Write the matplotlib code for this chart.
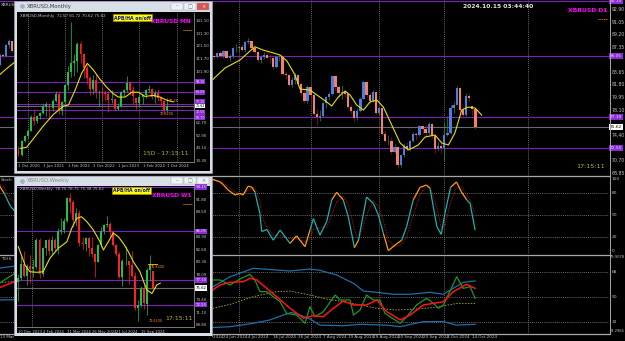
import numpy as np
import matplotlib
matplotlib.use("Agg")
import matplotlib.pyplot as plt
from matplotlib.patches import Rectangle
from matplotlib.lines import Line2D
from matplotlib.collections import LineCollection

W, H = 625, 341

# ---------------- D1 (main chart) data, bar index 0 = 24 Jun 2024 ----------------
d1_bar = [-73, -72, -71, -70, -69, -68, -67] + list(range(-5, 82))
d1_open = [83.7, 84.8, 86.2, 86.1, 87.7, 88.2, 86.8,
           83.4, 85.0, 86.1, 85.9, 86.5, 86.0, 86.8, 85.8, 86.1, 87.2, 87.2, 87.4, 87.0, 88.1, 88.2, 87.3,
           86.6, 85.5, 85.9, 86.2, 85.8, 85.7, 84.5, 85.9, 85.9, 83.4, 83.2, 81.8, 82.5, 83.2, 81.9, 80.6,
           79.4, 81.5, 80.3, 77.6, 77.1, 77.3, 79.1, 80.0, 80.5, 83.1, 81.5, 80.6, 80.8, 80.5, 78.5, 78.0,
           76.9, 78.0, 79.8, 82.2, 80.4, 79.5, 80.7, 77.75, 78.35, 74.6, 73.55, 73.55, 71.9, 72.7, 70.05,
           71.45, 72.8, 72.45, 73.6, 74.55, 74.5, 75.75, 75.35, 74.75, 76.05, 74.35, 72.45, 72.85, 72.57,
           74.45, 74.75, 78.45, 78.9, 81.3, 78.05, 77.45, 80.25, 78.75, 78.3]
d1_high = [85.0, 86.4, 86.5, 87.8, 88.5, 88.3, 87.4,
           85.2, 86.3, 86.2, 86.7, 86.8, 87.0, 86.9, 86.4, 87.4, 87.8, 87.6, 87.8, 88.3, 88.7, 88.4, 87.6,
           86.8, 86.2, 86.6, 86.7, 86.3, 85.9, 86.1, 86.4, 86.0, 83.8, 83.4, 83.0, 83.6, 83.4, 82.2, 81.0,
           81.8, 82.1, 80.5, 78.3, 78.1, 79.3, 80.2, 80.8, 83.2, 83.3, 81.8, 81.8, 81.1, 80.6, 78.8, 78.2,
           78.4, 80.1, 82.4, 82.3, 80.8, 81.0, 80.8, 78.55, 78.45, 75.05, 74.45, 74.15, 73.05, 72.85, 71.65,
           73.25, 73.45, 73.75, 74.85, 74.95, 75.95, 75.85, 75.85, 76.35, 76.15, 74.55, 73.35, 73.45, 76.25,
           77.25, 78.85, 79.35, 81.72, 81.4, 78.55, 80.65, 80.65, 78.75, 78.4]
d1_low = [83.5, 84.7, 85.7, 85.9, 87.3, 86.6, 86.4,
          83.1, 84.8, 85.6, 85.7, 85.9, 85.8, 85.7, 85.4, 85.8, 86.7, 86.7, 86.8, 86.7, 87.8, 87.1, 86.3,
          85.2, 85.0, 85.6, 85.7, 85.1, 84.2, 84.3, 85.3, 83.3, 82.7, 81.6, 81.5, 82.0, 81.7, 80.3, 79.1,
          79.2, 79.8, 77.4, 75.9, 76.5, 77.1, 78.4, 79.6, 80.3, 81.1, 80.1, 79.7, 80.1, 78.2, 77.6, 76.3,
          76.6, 77.8, 79.7, 80.1, 79.1, 79.3, 77.5, 77.35, 74.45, 73.35, 72.95, 71.65, 71.75, 69.55, 69.75,
          71.25, 72.25, 72.05, 73.35, 73.75, 74.25, 74.75, 74.15, 74.45, 74.05, 71.85, 72.15, 71.75, 70.62,
          74.25, 74.65, 77.75, 78.85, 77.45, 76.95, 77.25, 79.35, 77.45, 75.38]
d1_close = [84.8, 86.2, 86.1, 87.7, 88.2, 86.8, 86.8,
            85.0, 86.1, 85.9, 86.5, 86.0, 86.8, 85.8, 86.1, 87.2, 87.2, 87.4, 87.0, 88.1, 88.2, 87.3, 86.6,
            85.5, 85.9, 86.2, 85.8, 85.7, 84.5, 85.9, 85.9, 83.4, 83.2, 81.8, 82.5, 83.2, 81.9, 80.6, 79.4,
            81.5, 80.3, 77.6, 77.1, 77.3, 79.1, 80.0, 80.5, 83.1, 81.5, 80.6, 80.8, 80.5, 78.5, 78.0, 76.9,
            78.0, 79.8, 82.2, 80.4, 79.5, 80.7, 77.7, 78.35, 74.6, 73.55, 73.55, 71.9, 72.7, 70.05, 71.45,
            72.8, 72.45, 73.6, 74.55, 74.5, 75.75, 75.35, 74.75, 76.05, 74.35, 72.45, 72.85, 72.6, 74.45,
            74.75, 78.45, 78.9, 81.3, 78.05, 77.45, 80.25, 79.9, 78.3, 75.62]
d1_ma_x = [-74, -72, -69.5, -67, -65, -4.3, 0.5, 5.3, 10.1, 12.7, 15, 18.2, 20.4, 23, 24.6, 27.8, 33.2,
           34.8, 36.9, 39.1, 40.7, 42.8, 45, 47.1, 49.3, 51.4, 54.1, 56.8, 59.4, 62.6, 64.8, 68, 70.2,
           72.3, 74.4, 76.6, 78.7, 80.9, 83]
d1_ma_y = [82.9, 83.3, 84.3, 85.2, 85.8, 82.24, 84.30, 85.47, 87.43, 86.94, 86.65, 86.21, 85.33, 83.27,
           81.21, 81.06, 79.30, 78.71, 80.03, 80.91, 80.33, 78.86, 78.12, 79.30, 79.59, 78.56, 75.91,
           73.27, 72.24, 72.97, 74.15, 74.44, 73.27, 72.97, 74.74, 78.12, 78.56, 78.41, 77.38]
d1_ticks = [68.85, 70.70, 74.40, 78.10, 79.95, 81.80, 83.65, 87.35, 89.20, 91.05, 92.90]
d1_grid = [5, 28, 50, 71, 98]
d1_date_pos = [-72, -8, 0, 8, 16, 24, 32, 40, 48, 56, 64, 72, 80]
d1_date_lab = ["13 Mar", "12 Jun 2024", "24 Jun 2024", "4 Jul 2024", "16 Jul 2024", "26 Jul 2024",
               "7 Aug 2024", "19 Aug 2024", "29 Aug 2024", "10 Sep 2024", "20 Sep 2024", "2 Oct 2024",
               "14 Oct 2024"]
levels = [94.15, 86.05, 77.10, 72.55, 66.70]
last_price = 75.62

# Stochastic
st_x = [-74, -72.5, -70.5, -68.5, -67, -3.5, -1.1, 0, 1.5, 3.7, 5.3, 6.3, 7.9, 9, 10.1, 11.7, 12.3, 13.9,
        16, 18.2, 21.4, 23.5, 26.2, 27.8, 28.9, 31, 33.2, 34.8, 36.4, 38.5, 40.1, 42.1, 43.4, 46, 48.2,
        49.8, 51.4, 53, 55.1, 57.3, 58.9, 61, 63.2, 65.3, 66.4, 68.6, 70, 71.2, 73, 74.9, 76.5, 78.2,
        79.3, 80.9]
st_k = [96, 94, 80, 62, 55, 99.6, 96, 91.7, 84.7, 77.8, 80, 77.8, 90, 89, 82, 52, 27, 30, 15, 29, 10.6,
        21, 6, 29, 45, 22, 41, 71, 81.5, 71, 48, 4.6, 15, 75, 66, 50, 24.5, 0.5, 8, 15, 34, 71, 88.4,
        91.7, 87, 34, 23, 52, 88.4, 96, 82, 71, 66, 29]
st_d = [92, 95, 88, 72, 66, 98, 97, 94, 89, 82, 79, 79, 84, 88, 87, 70, 48, 33, 22, 22, 17, 17, 13, 16,
        30, 32, 33, 50, 68, 76, 65, 30, 14, 50, 70, 62, 42, 15, 6, 9, 20, 50, 78, 89, 89, 60, 33, 35, 68,
        88, 89, 78, 70, 52]

# TDI
tdi_up_x = [-74, -67, -4.3, 2.1, 9.6, 12.8, 21.4, 27.8, 31.0, 36.4, 41.8, 45.0, 49.3, 54.6, 59.9, 66.4,
            70.7, 73.9, 77.1, 80.9]
tdi_up = [70, 72, 56.1, 64.4, 70.4, 69.9, 68.5, 69.9, 69.0, 65.6, 59.7, 54.2, 53.3, 51.9, 51.9, 53.3,
          51.9, 56.2, 60.4, 61.4]
tdi_lo_x = [-74, -67, -4.3, 2.1, 9.6, 14.9, 19.2, 21.9, 24.6, 27.8, 31.0, 38.5, 43.9, 52.5, 56.8, 64.3,
            70.7, 75.0, 80.9]
tdi_lo = [47.8, 48, 28.1, 28.8, 31.2, 33.6, 37.1, 39.0, 37.1, 34.3, 29.9, 29.5, 30.5, 29.9, 28.8, 32.4,
          32.4, 29.9, 30.5]
tdi_mid_x = [-74, -67, -4.3, 2.1, 9.6, 17.1, 21.4, 27.8, 33.2, 38.5, 43.9, 49.3, 55.7, 62.1, 68.5, 75.0,
             80.9]
tdi_mid = [60, 61, 41.4, 44.7, 50.2, 53.8, 54.2, 51.4, 48.5, 46.6, 44.3, 41.9, 40.7, 41.4, 42.6, 45.4, 45.4]
tdi_rsi_x = [-74, -67, -4.3, -1.1, 2.1, 5.3, 8.5, 10.1, 11.7, 13.9, 16.0, 18.2, 20.3, 23.5, 26.2, 27.8,
             29.4, 32.1, 35.9, 37.5, 40.7, 41.8, 43.9, 46.0, 48.2, 50.3, 51.9, 56.8, 58.9, 62.1, 65.3, 67.5,
             69.1, 70.7, 75.0, 77.1, 79.3, 80.9]
tdi_rsi = [57, 67, 62.1, 62.1, 58.5, 62.8, 66.1, 62.1, 53.8, 53.8, 50.2, 46.6, 38.3, 37.1, 31.2, 43.1,
           35.9, 39.5, 51.4, 47.8, 47.8, 37.1, 40.7, 51.4, 47.8, 47.8, 38.3, 31.2, 35.9, 44.3, 49.0, 45.4,
           41.9, 44.3, 64.4, 56.1, 57.3, 49.0]
tdi_sig_x = [-74, -67, -4.3, -1.1, 2.1, 6.4, 8.5, 10.7, 13.9, 17.1, 21.4, 25.7, 28.9, 32.1, 35.3, 38.5,
             41.8, 46.0, 49.3, 52.5, 56.8, 60.0, 64.3, 67.5, 70.7, 73.9, 78.2, 80.9]
tdi_sig = [55, 61, 53.8, 58.5, 60.4, 60.9, 63.3, 62.1, 56.1, 50.2, 41.9, 34.8, 36.6, 35.9, 41.9, 47.1,
           44.3, 44.3, 47.8, 39.5, 33.6, 37.1, 44.3, 45.4, 46.6, 53.8, 59.0, 56.1]

# ---------------- Monthly data, index 0 = Oct 2020 ----------------
mn_open = [41.9, 38.3, 48.4, 52.6, 56.7, 66.9, 64.3, 68.1, 70.1, 75.9, 77.1, 73.7, 79.3, 85.2, 71.4, 78.6,
           92.0, 101.7, 108.7, 110.1, 123.6, 115.6, 104.8, 97.3, 88.8, 95.6, 86.2, 86.7, 85.3, 84.7, 80.6,
           81.1, 73.5, 75.7, 86.4, 87.7, 93.0, 88.2, 82.0, 77.8, 82.5, 84.4, 87.8, 88.7, 82.4, 85.8, 81.5,
           79.6, 72.57]
mn_high = [44.7, 49.4, 53.3, 58.2, 68.5, 72.2, 68.9, 71.0, 77.0, 78.6, 77.3, 80.8, 87.5, 86.8, 79.8, 92.5,
           106.6, 139.9, 115.6, 124.8, 126.0, 116.4, 106.8, 98.4, 99.6, 100.4, 87.7, 89.9, 87.7, 87.3, 88.3,
           81.8, 78.1, 86.8, 88.9, 98.5, 94.6, 90.8, 82.1, 84.8, 84.8, 88.4, 92.0, 89.2, 87.8, 88.7, 83.2,
           80.0, 81.72]
mn_low = [37.4, 37.4, 47.6, 51.2, 56.1, 61.1, 62.4, 65.4, 69.8, 68.2, 65.4, 71.4, 78.6, 69.7, 69.0, 77.8,
          87.8, 98.2, 98.4, 101.9, 108.8, 96.8, 92.3, 84.4, 84.8, 81.8, 75.9, 78.6, 79.9, 70.9, 77.8, 72.2,
          72.4, 74.9, 83.2, 86.4, 84.0, 77.4, 73.1, 75.6, 77.4, 81.6, 86.7, 81.3, 77.6, 79.3, 75.9, 69.55,
          70.62]
mn_close = [38.3, 48.4, 52.6, 56.7, 66.9, 64.3, 68.1, 70.1, 75.9, 77.1, 73.7, 79.3, 85.2, 71.4, 78.6, 92.0,
            101.7, 108.7, 110.1, 123.6, 115.6, 104.8, 97.3, 88.8, 95.6, 86.2, 86.7, 85.3, 84.7, 80.6, 81.1,
            73.5, 75.7, 86.4, 87.7, 93.0, 88.2, 83.6, 77.8, 82.5, 84.4, 87.8, 88.7, 82.4, 85.8, 81.5, 79.6,
            72.57, 75.62]
mn_ma_x = [0.5, 2.6, 4.8, 8.0, 11.2, 14.5, 16.1, 18.2, 20.4, 22.2, 24.1, 26.3, 28.5, 30.6, 32.2, 34.4,
           36.5, 38.6, 40.8, 43.5, 45.6, 47.8, 49.9]
mn_ma_y = [43.0, 43.8, 50.4, 60.3, 69.0, 75.6, 76.4, 87.5, 101.0, 108.4, 103.5, 96.1, 89.9, 85.0, 82.5,
           82.5, 86.2, 86.2, 83.0, 83.8, 82.5, 80.1, 78.8]
mn_ticks = [33.30, 43.10, 52.90, 62.70, 101.90, 111.70, 121.50, 131.30, 141.10]
mn_grid = [3, 15, 27, 39, 51]
mn_date_pos = [0, 8, 16, 24, 32, 40, 48]
mn_date_lab = ["1 Oct 2020", "1 Jun 2021", "1 Feb 2022", "1 Oct 2022", "1 Jun 2023", "1 Feb 2024",
               "1 Oct 2024"]

# ---------------- Weekly data, index 0 = 10 Dec 2023 ----------------
wk_open = [76.75, 77.45, 79.95, 77.85, 79.65, 79.15, 79.45, 84.45, 78.15, 83.05, 84.35, 82.45, 84.45,
           82.95, 86.15, 86.25, 87.85, 92.05, 91.35, 88.15, 89.35, 83.81, 83.65, 84.85, 82.95, 81.95,
           80.45, 83.45, 86.05, 87.25, 87.35, 85.85, 83.45, 81.95, 77.65, 80.55, 80.55, 79.85, 77.75,
           71.95, 72.45, 75.35, 72.6, 78.95, 78.75]
wk_high = [78.15, 81.45, 82.45, 80.05, 81.65, 80.95, 84.85, 84.75, 83.15, 84.35, 84.85, 85.15, 84.75,
           86.55, 88.45, 88.45, 92.25, 93.05, 91.75, 90.35, 89.95, 85.05, 84.95, 84.95, 85.05, 82.1,
           83.75, 86.75, 87.45, 88.75, 87.65, 86.15, 83.65, 82.15, 80.85, 83.25, 80.65, 82.45, 78.55,
           73.45, 75.95, 76.35, 79.35, 81.72, 78.75]
wk_low = [73.15, 77.05, 77.65, 76.15, 76.55, 77.65, 79.05, 77.45, 77.75, 81.65, 81.65, 81.65, 82.45,
          81.95, 85.45, 85.65, 87.65, 89.45, 86.75, 86.95, 83.25, 82.85, 82.45, 81.45, 81.35, 77.65,
          80.35, 83.15, 85.45, 86.75, 85.05, 83.35, 81.55, 77.45, 75.95, 79.75, 76.35, 77.55, 71.65,
          69.55, 72.05, 71.85, 70.62, 76.95, 75.38]
wk_close = [77.45, 79.95, 77.85, 79.65, 79.15, 79.45, 84.45, 78.15, 83.05, 84.35, 82.45, 84.45, 82.95,
            86.15, 86.25, 87.85, 92.05, 91.35, 88.15, 89.35, 83.81, 83.65, 84.85, 82.95, 81.95, 80.45,
            83.45, 86.05, 87.25, 87.35, 85.85, 83.45, 81.95, 77.65, 80.55, 80.55, 79.85, 77.75, 71.95,
            72.45, 75.35, 72.85, 78.95, 79.9, 75.62]
wk_ma_x = [0.1, 2.3, 3.9, 6.1, 8.2, 10.4, 13.1, 15.9, 17.5, 19.1, 20.7, 22.4, 24.5, 26.7, 27.8, 29.4,
           31.0, 32.7, 34.3, 35.9, 37.6, 39.7, 41.9, 43.6, 45.2, 46.3]
wk_ma_y = [83.2, 79.8, 78.6, 78.5, 78.6, 81.1, 82.9, 84.1, 86.6, 88.4, 88.7, 87.8, 86.3, 84.1, 82.6,
           84.1, 85.7, 85.0, 83.8, 82.3, 80.4, 78.6, 75.3, 74.6, 76.2, 76.5]
wk_ticks = [68.80, 71.10, 73.40, 78.00, 80.30, 82.60, 84.90, 89.50, 91.80]
wk_grid = [4.5]
wk_date_pos = [0, 8, 16, 24, 32, 40]
wk_date_lab = ["10 Dec 2023", "4 Feb 2024", "31 Mar 2024", "26 May 2024", "21 Jul 2024", "15 Sep 2024"]

# ---------------- helpers ----------------
LBL = '#c4c4c4'
PURPLE = '#7b22b8'
fig = plt.figure(figsize=(W / 100, H / 100), dpi=100, facecolor='black')


def box(x0, y0, x1, y1):
    return [x0 / W, 1 - y1 / H, (x1 - x0) / W, (y1 - y0) / H]


def ftext(x, y, s, z=1.5, **kw):
    kw.setdefault('fontsize', 3.6)
    kw.setdefault('color', LBL)
    kw.setdefault('va', 'center')
    return fig.text(x / W, 1 - y / H, s, zorder=z, **kw)


def frect(x0, y0, x1, y1, z=2, **kw):
    r = Rectangle((x0 / W, 1 - y1 / H), (x1 - x0) / W, (y1 - y0) / H,
                  transform=fig.transFigure, zorder=z, **kw)
    fig.add_artist(r)


def fline(xs, ys, z=1.5, **kw):
    fig.add_artist(Line2D([x / W for x in xs], [1 - y / H for y in ys],
                          transform=fig.transFigure, zorder=z, **kw))


def candles(ax, x, o, h, l, c, w, up_b, dn_b, up_w, dn_w):
    x = np.asarray(x, float)
    o, h, l, c = (np.asarray(v, float) for v in (o, h, l, c))
    up = c >= o
    ax.vlines(x, l, h, colors=[up_w if u else dn_w for u in up], lw=0.5, zorder=2)
    ax.bar(x, np.maximum(np.abs(c - o), 0.02), width=w, bottom=np.minimum(o, c),
           color=[up_b if u else dn_b for u in up], linewidth=0, zorder=2.5)


def blank(ax):
    ax.set_facecolor('black')
    ax.set_xticks([])
    ax.set_yticks([])
    for s in ax.spines.values():
        s.set_visible(False)


def right_labels(ax, ticks, dx, fs=3.5):
    for t in ticks:
        ax.text(1 + dx, t, f"{t:.2f}", transform=ax.get_yaxis_transform(), color=LBL,
                fontsize=fs, va='center', ha='left', clip_on=False, zorder=5)


def level_boxes(ax, dx, fs=3.3, shift=None):
    # shift: small label offsets (in price units) so stacked boxes stay readable
    shift = shift or {}
    lo, hi = ax.get_ylim()
    for lv in levels:
        if lo <= lv <= hi:
            ax.axhline(lv, color=PURPLE, lw=0.8, zorder=1.5)
            ax.text(1 + dx, lv + shift.get(lv, 0), f"{lv:.2f}", transform=ax.get_yaxis_transform(),
                    color='#f0e0ff', fontsize=fs, va='center', ha='left', clip_on=False, zorder=6,
                    bbox=dict(boxstyle='square,pad=0.15', fc='#8e2ad6', ec='none'))
    ax.axhline(last_price, color='#6a6a6a', lw=0.8, zorder=1.5)
    ax.text(1 + dx, last_price, f"{last_price:.2f}", transform=ax.get_yaxis_transform(), color='black',
            fontsize=fs, va='center', ha='left', clip_on=False, zorder=6.5,
            bbox=dict(boxstyle='square,pad=0.15', fc='white', ec='none'))


# ---------------- main D1 panels ----------------
XL = (-71.86, 123.95)
ax_p = fig.add_axes(box(0, 0, 609, 175.5))
ax_s = fig.add_axes(box(0, 176.5, 609, 254))
ax_t = fig.add_axes(box(0, 255, 609, 333))
for ax in (ax_p, ax_s, ax_t):
    blank(ax)
    ax.set_xlim(*XL)
    for g in d1_grid:
        ax.axvline(g, color='#8a8a8a', lw=0.5, ls=(0, (1.5, 1.5)), zorder=1)

ax_p.set_ylim(68.49, 94.30)
candles(ax_p, d1_bar, d1_open, d1_high, d1_low, d1_close, 0.75,
        '#4a7ee0', '#f4806c', '#2c8c2c', '#a01818')
ax_p.plot(d1_ma_x, d1_ma_y, color='#e8e000', lw=0.8, zorder=3)
level_boxes(ax_p, 0.0015, fs=3.1)
right_labels(ax_p, d1_ticks, 0.004, fs=3.3)

ax_s.set_ylim(-4.2, 103.5)
for lv in (80, 50, 20):
    ax_s.axhline(lv, color='#8a8a8a', lw=0.5, ls=(0, (1.5, 1.5)), zorder=1)
ax_s.plot(st_x, st_d, color='#c02020', lw=0.6, ls=(0, (1, 1)), zorder=2)
pts = np.column_stack([st_x, st_k])
segs = np.stack([pts[:-1], pts[1:]], axis=1)
mid = (pts[:-1, 1] + pts[1:, 1]) / 2
seg_cols = ['#ffa000' if (m > 76 or m < 18) else '#22b0b0' for m in mid]
ax_s.add_collection(LineCollection(segs, colors=seg_cols, lw=0.9, zorder=3))
for v, s in [(100, "100"), (80, "80"), (50, "50"), (20, "20"), (0, "0")]:
    ax_s.text(1.004, v, s, transform=ax_s.get_yaxis_transform(), color=LBL, fontsize=3.2,
              va='center', ha='left', clip_on=False)

ax_t.set_ylim(24.2966, 79.9078)
for lv in (68, 50, 32):
    ax_t.axhline(lv, color='#8a8a8a', lw=0.5, ls=(0, (1.5, 1.5)), zorder=1)
ax_t.plot(tdi_up_x, tdi_up, color='#1f70a8', lw=0.9, zorder=2)
ax_t.plot(tdi_lo_x, tdi_lo, color='#1f70a8', lw=0.9, zorder=2)
ax_t.plot(tdi_mid_x, tdi_mid, color='#a0a020', lw=0.7, ls=(0, (1.5, 1.5)), zorder=2)
ax_t.plot(tdi_rsi_x, tdi_rsi, color='#1e9a1e', lw=0.9, zorder=3)
ax_t.plot(tdi_sig_x, tdi_sig, color='#ff1414', lw=1.1, zorder=4)
for v, s in [(68, "68"), (50, "50"), (32, "32")]:
    ax_t.text(1.004, v, s, transform=ax_t.get_yaxis_transform(), color=LBL, fontsize=3.2,
              va='center', ha='left', clip_on=False)
ax_t.text(1.0015, 79.9078, "79.9078", transform=ax_t.get_yaxis_transform(), color=LBL, fontsize=2.6,
          va='top', ha='left', clip_on=False)
ax_t.text(1.0015, 24.2966, "24.2966", transform=ax_t.get_yaxis_transform(), color=LBL, fontsize=2.6,
          va='bottom', ha='left', clip_on=False)
for p, s in zip(d1_date_pos, d1_date_lab):
    ax_t.text(p, -0.052, s, transform=ax_t.get_xaxis_transform(), color=LBL, fontsize=3.0,
              va='center', ha='left', clip_on=False)

# separators and main texts (left parts only show beside the inset windows)
for yy in (175.9, 254.5, 333.5):
    fline([0, 609.5], [yy, yy], z=1.4, color='#a8a8a8', lw=0.9)
fline([609.5, 609.5], [0, 333.5], z=1.4, color='#a8a8a8', lw=0.7)
ftext(1, 4.5, "XBRUS", fontsize=3.0)
ftext(1, 180, "Stoch", fontsize=3.0)
ftext(1, 258.5, "TDI 6", fontsize=3.0)
ftext(498, 6, "2024.10.15 03:44:40", fontsize=4.3, color='#e6e6e6', ha='center', weight='bold')
ftext(608, 10, "XBRUSD D1", fontsize=4.4, color='#ff00ff', ha='right', weight='bold')
fline([598, 607], [18.5, 18.5], color='#ffa000', lw=0.7, ls=(0, (1, 1)))
ftext(591, 166, "17:15:11", fontsize=4.6, color='#b4b430', ha='center')


# ---------------- inset windows ----------------
def window(x0, y0, x1, y1, title, active):
    frect(x0, y0, x1, y1, z=2, fc='#d8dee6', ec='#9aa4b0', lw=0.5)
    frect(x0 + 2.5, y0 + 10.5, x1 - 2.5, y1 - 2.5, z=2.1, fc='black', ec='none')
    tc = '#404040' if active else '#8a8a8a'
    ftext(x0 + 12, y0 + 5.2, title, z=5, fontsize=3.8, color=tc, ha='left')
    fig.add_artist(Line2D([(x0 + 7) / W], [1 - (y0 + 5.2) / H], marker='o', ms=2.6,
                          mfc='#9ab8d8', mec='#6a8aa8', mew=0.3, transform=fig.transFigure, zorder=5))
    for bx, sym in [(x1 - 41, '\u2013'), (x1 - 28, '\u25a1'), (x1 - 15, '\u00d7')]:
        closing = sym == '\u00d7' and active
        frect(bx, y0 + 1.8, bx + 12, y0 + 8.8, z=4, fc='#d9534f' if closing else '#eef1f5',
              ec='#9aa4b0', lw=0.3)
        ftext(bx + 6, y0 + 5.3, sym, z=5, fontsize=3.6, ha='center',
              color='white' if closing else '#707070')


window(14.5, 1, 212, 173, "XBRUSD,Monthly", True)
window(14.5, 175.5, 212, 335.5, "XBRUSD,Weekly", False)
frect(14.5, 335.5, 212, 341, z=2, fc='black', ec='none')

# Monthly chart
ax_m = fig.add_axes(box(17, 13, 194, 162))
blank(ax_m)
ax_m.set_zorder(3)
ax_m.set_xlim(-0.48, 56.6)
ax_m.set_ylim(32.54, 147.16)
for s in ('right', 'bottom'):
    ax_m.spines[s].set_visible(True)
    ax_m.spines[s].set_color('#8c8c8c')
    ax_m.spines[s].set_linewidth(0.6)
for g in mn_grid:
    ax_m.axvline(g, color='#8a8a8a', lw=0.5, ls=(0, (1.5, 1.5)), zorder=1)
candles(ax_m, range(len(mn_open)), mn_open, mn_high, mn_low, mn_close, 0.62,
        '#22c04a', '#ff2020', '#22c04a', '#ff2020')
ax_m.plot(mn_ma_x, mn_ma_y, color='#e8e000', lw=0.8, zorder=3)
level_boxes(ax_m, 0.008, fs=2.3, shift={77.10: 1.9, 72.55: -1.6})
right_labels(ax_m, mn_ticks, 0.01, fs=2.9)
for p, s in zip(mn_date_pos, mn_date_lab):
    ax_m.text(p, -0.027, s, transform=ax_m.get_xaxis_transform(), color=LBL, fontsize=2.8,
              va='center', ha='left', clip_on=False)

ftext(20, 16.5, "XBRUSD,Monthly  72.57 81.72 70.62 75.62", z=5, fontsize=2.9, ha='left')
ftext(132.5, 17.5, "APB/HA on/off", z=5, fontsize=3.3, ha='center', color='#1010a0', weight='bold',
      bbox=dict(boxstyle='square,pad=0.3', fc='#ffff00', ec='#b09000', lw=0.4))
ftext(191, 21.5, "XBRUSD MN", z=5, fontsize=4.2, ha='right', color='#ff00ff', weight='bold')
fline([183, 192], [30, 30], z=5, color='#ffa000', lw=0.7, ls=(0, (1, 1)))
ftext(166, 153, "15D - 17:15:11", z=5, fontsize=4.3, ha='center', color='#b4b430')
ftext(174, 100.5, "76.28", z=5, fontsize=2.4, ha='center', color='#ff9020')
ftext(167, 114.5, "70.6200", z=5, fontsize=2.4, ha='center', color='#ff9020')

# Weekly chart
ax_w = fig.add_axes(box(17, 186, 194, 327))
blank(ax_w)
ax_w.set_zorder(3)
ax_w.set_xlim(-0.33, 57.3)
ax_w.set_ylim(68.46, 94.34)
for s in ('right', 'bottom'):
    ax_w.spines[s].set_visible(True)
    ax_w.spines[s].set_color('#8c8c8c')
    ax_w.spines[s].set_linewidth(0.6)
for g in wk_grid:
    ax_w.axvline(g, color='#8a8a8a', lw=0.5, ls=(0, (1.5, 1.5)), zorder=1)
candles(ax_w, range(len(wk_open)), wk_open, wk_high, wk_low, wk_close, 0.62,
        '#22c04a', '#ff2020', '#22c04a', '#ff2020')
ax_w.plot(wk_ma_x, wk_ma_y, color='#e8e000', lw=0.8, zorder=3)
level_boxes(ax_w, 0.008, fs=2.8)
right_labels(ax_w, wk_ticks, 0.01, fs=2.9)
for p, s in zip(wk_date_pos, wk_date_lab):
    ax_w.text(p, -0.02, s, transform=ax_w.get_xaxis_transform(), color=LBL, fontsize=2.7,
              va='top', ha='left', clip_on=False)

ftext(20, 189.5, "XBRUSD,Weekly  78.75 78.75 75.38 75.62", z=5, fontsize=2.9, ha='left')
ftext(131.5, 190.5, "APB/HA on/off", z=5, fontsize=3.3, ha='center', color='#1010a0', weight='bold',
      bbox=dict(boxstyle='square,pad=0.3', fc='#ffff00', ec='#b09000', lw=0.4))
ftext(192, 195, "XBRUSD W1", z=5, fontsize=4.2, ha='right', color='#ff00ff', weight='bold')
fline([183, 192], [203.5, 203.5], z=5, color='#ffa000', lw=0.7, ls=(0, (1, 1)))
ftext(179, 318, "17:15:11", z=5, fontsize=4.4, ha='center', color='#b4b430')
fline([148, 157], [264, 264], z=5, color='#ffa000', lw=0.7)
ftext(158, 267, "76.8300", z=5, fontsize=2.4, ha='center', color='#ff9020')
ftext(156, 321, "70.6200", z=5, fontsize=2.4, ha='center', color='#ff9020')

fig.savefig("out.png", dpi=100, facecolor='black')
